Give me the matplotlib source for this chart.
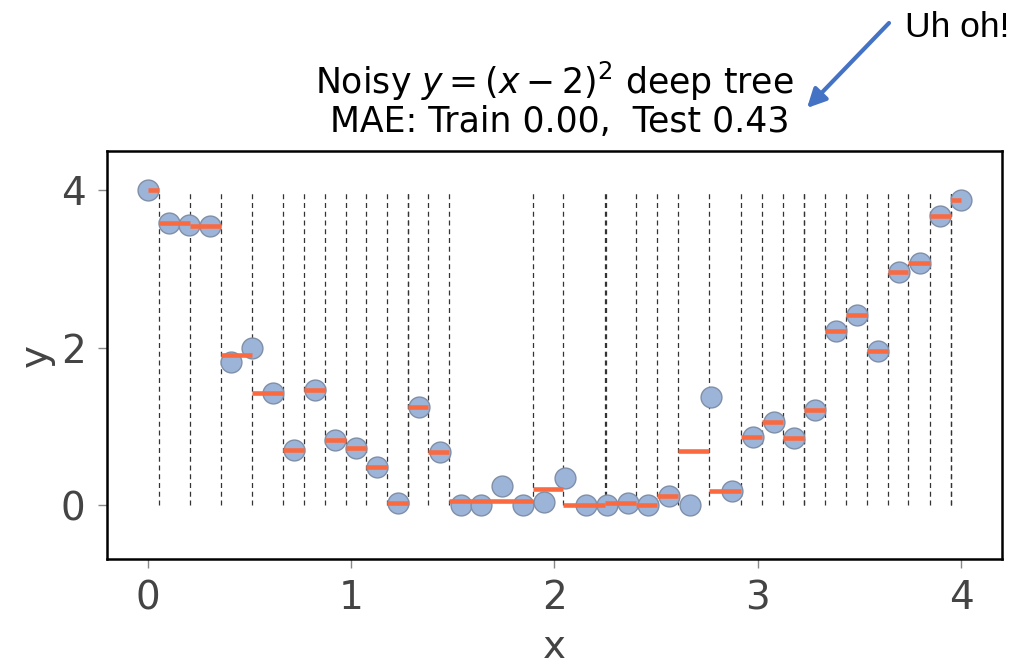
import matplotlib
matplotlib.use("Agg")
import matplotlib.pyplot as plt

# sample points
x = [0.000, 0.103, 0.205, 0.308, 0.410, 0.513, 0.615, 0.718, 0.821, 0.923,
     1.026, 1.128, 1.231, 1.333, 1.436, 1.538, 1.641, 1.744, 1.846, 1.949,
     2.051, 2.154, 2.256, 2.359, 2.462, 2.564, 2.667, 2.769, 2.872, 2.974,
     3.077, 3.179, 3.282, 3.385, 3.487, 3.590, 3.692, 3.795, 3.897, 4.000]
y = [4.00, 3.58, 3.56, 3.55, 1.82, 2.00, 1.43, 0.71, 1.47, 0.83,
     0.73, 0.49, 0.03, 1.25, 0.68, 0.00, 0.00, 0.25, 0.00, 0.05,
     0.35, 0.00, 0.00, 0.03, 0.00, 0.12, 0.00, 1.38, 0.18, 0.87,
     1.06, 0.85, 1.21, 2.22, 2.42, 1.96, 2.96, 3.08, 3.67, 3.88]

# tree split thresholds (some appear twice)
splits = [0.054, 0.206, 0.359, 0.514, 0.664, 0.770, 0.870, 0.973, 1.074, 1.177,
          1.278, 1.279, 1.380, 1.483, 1.892, 2.043, 2.250, 2.251, 2.402, 2.504,
          2.606, 2.762, 2.917, 3.019, 3.125, 3.227, 3.228, 3.329, 3.435, 3.534,
          3.640, 3.740, 3.846, 3.948, 3.949]

# leaf predictions: start, end, value
leaf_start = [0.000, 0.054, 0.206, 0.359, 0.514, 0.664, 0.770, 0.870, 0.973, 1.074,
              1.177, 1.278, 1.380, 1.483, 1.892, 2.043, 2.250, 2.402, 2.504, 2.606,
              2.762, 2.917, 3.019, 3.125, 3.227, 3.329, 3.435, 3.534, 3.640, 3.740,
              3.846, 3.948]
leaf_end = leaf_start[1:] + [4.000]
leaf_val = [4.00, 3.58, 3.55, 1.91, 1.43, 0.71, 1.47, 0.83, 0.73, 0.49,
            0.03, 1.25, 0.68, 0.06, 0.21, 0.00, 0.03, 0.00, 0.12, 0.69,
            0.18, 0.87, 1.06, 0.85, 1.21, 2.22, 2.42, 1.96, 2.96, 3.08,
            3.67, 3.88]

GREY = '#444444'

fig = plt.figure(figsize=(10.24, 6.65), dpi=100)
ax = fig.add_axes([0.1045, 0.1594, 0.874, 0.6135])

ax.vlines(splits, 0, 4, colors='#333333', linewidth=0.9, linestyles=(0, (4, 3)), zorder=1)
ax.scatter(x, y, s=225, facecolor='#9db4d9', edgecolor='#7f8fa8', linewidth=1, zorder=2)
ax.hlines(leaf_val, leaf_start, leaf_end, colors='#f96a40', linewidth=3.3, zorder=3)

ax.set_xlim(-0.2, 4.2)
ax.set_ylim(-0.68, 4.5)
ax.set_xticks([0, 1, 2, 3, 4])
ax.set_yticks([0, 2, 4])
ax.tick_params(labelsize=28, labelcolor=GREY, color='#888888', length=6.5, width=1)
ax.tick_params(axis='y', pad=9)
ax.tick_params(axis='x', pad=8)
ax.set_xlabel('x', fontsize=28, color=GREY, labelpad=8)
ax.set_ylabel('y', fontsize=28, color=GREY, labelpad=4)
for sp in ax.spines.values():
    sp.set_linewidth(1.8)
    sp.set_color('black')

ax.set_title('Noisy $y=(x-2)^2$ deep tree\n MAE: Train 0.00,  Test 0.43',
             fontsize=25, pad=14, linespacing=1.05)

fig.text(905 / 1024, 1 - 37 / 665, 'Uh oh!', fontsize=25.5, family='Liberation Sans',
         ha='left', va='baseline')
ax.annotate('', xy=(807 / 1024, 1 - 108 / 665), xycoords='figure fraction',
            xytext=(889 / 1024, 1 - 23 / 665), textcoords='figure fraction',
            arrowprops=dict(arrowstyle='-|>', color='#4472c4', lw=3,
                            mutation_scale=28, shrinkA=0, shrinkB=0),
            annotation_clip=False)

fig.savefig('out.png', dpi=100)
